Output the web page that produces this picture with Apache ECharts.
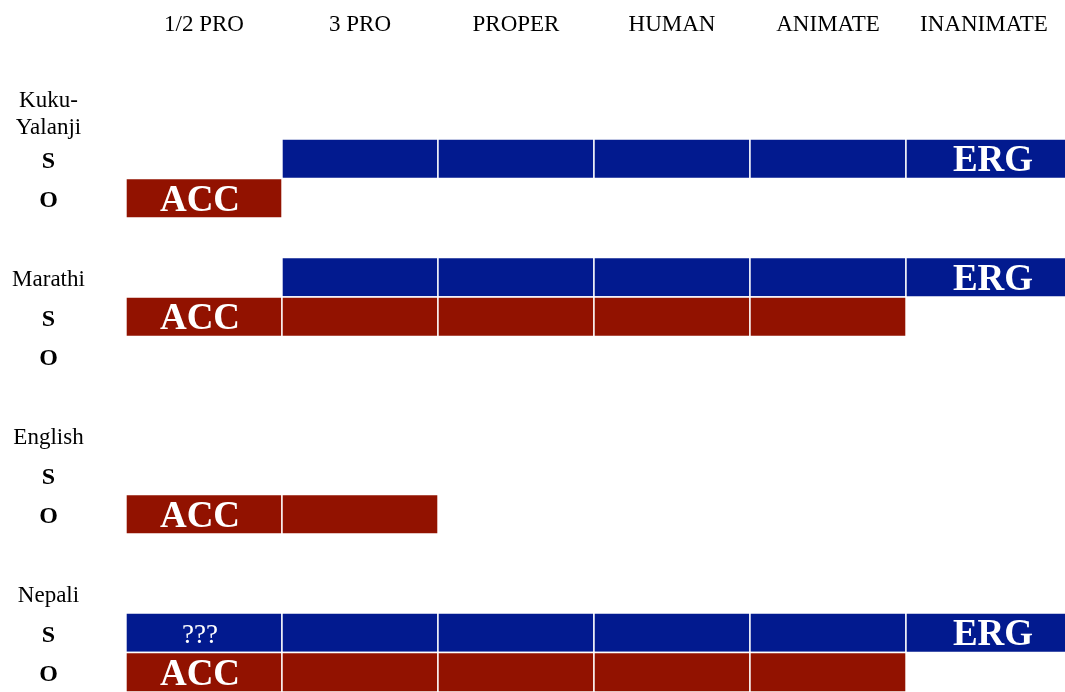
<!DOCTYPE html>
<html>
<head>
<meta charset="utf-8">
<script src="https://cdn.jsdelivr.net/npm/echarts@6/dist/echarts.min.js"></script>
<style>
  html, body { margin: 0; padding: 0; background: #fff; }
  #chart { width: 1065px; height: 692px; }
</style>
</head>
<body>
<div id="chart"></div>
<script>
// ---- data ----
const columns = ['1/2 PRO', '3 PRO', 'PROPER', 'HUMAN', 'ANIMATE', 'INANIMATE'];
const rowLabels = ['Kuku-\nYalanji', 'S', 'O', '', 'Marathi', 'S', 'O', '', 'English', 'S', 'O', '', 'Nepali', 'S', 'O'];
// marked spans: row index, first column, last column, case
const spanRow  = [1, 2, 4, 5, 10, 13, 14];
const spanFrom = [1, 0, 1, 0, 0, 0, 0];
const spanTo   = [5, 0, 5, 4, 1, 5, 4];
const spanCase = ['ERG', 'ACC', 'ERG', 'ACC', 'ACC', 'ERG', 'ACC'];
// extra cell texts: row, column, text
const noteRow = [13];
const noteCol = [0];
const noteText = ['???'];

const caseColor = { ERG: '#021A8F', ACC: '#921200' };
const FONT = 'Liberation Serif';

// build cells
const cells = [];
for (let i = 0; i < spanRow.length; i++) {
  for (let c = spanFrom[i]; c <= spanTo[i]; c++) {
    let label = '';
    if (spanCase[i] === 'ACC' && c === 0) label = 'ACC';
    if (spanCase[i] === 'ERG' && c === 5) label = 'ERG';
    let note = '';
    for (let k = 0; k < noteRow.length; k++) {
      if (noteRow[k] === spanRow[i] && noteCol[k] === c) note = noteText[k];
    }
    cells.push([c, spanRow[i], spanCase[i], label, note]);
  }
}

const chart = echarts.init(document.getElementById('chart'), null, { renderer: 'canvas' });

function renderItem(params, api) {
  const col = api.value(0);
  const row = api.value(1);
  const kind = cells[params.dataIndex][2];
  const label = cells[params.dataIndex][3];
  const note = cells[params.dataIndex][4];
  const p = api.coord([col, row]);
  const w = api.size([1, 0])[0];
  const h = api.size([0, 1])[1];
  const width = col === columns.length - 1 ? api.getWidth() - p[0] + 2 : w;
  const children = [{
    type: 'rect',
    shape: { x: p[0], y: p[1] - h / 2, width: width, height: h },
    style: { fill: caseColor[kind], stroke: '#ffffff', lineWidth: 1.4 }
  }];
  const text = label || note;
  if (text) {
    const off = col === 0 ? -4 : (col === columns.length - 1 ? 9 : 0);
    children.push({
      type: 'text',
      x: p[0] + w / 2 + off,
      y: p[1] + 3,
      style: {
        text: text,
        fill: '#ffffff',
        font: label ? ('bold 37px "' + FONT + '"') : ('27px "' + FONT + '"'),
        align: 'center',
        verticalAlign: 'middle'
      }
    });
  }
  return { type: 'group', children: children };
}

chart.setOption({
  backgroundColor: '#ffffff',
  animation: false,
  grid: { left: 126, top: 99.5, width: 936, height: 594.6, containLabel: false },
  xAxis: [
    { type: 'value', min: 0, max: 6, show: false },
    {
      type: 'category', data: columns, position: 'top', boundaryGap: true,
      axisLine: { show: false }, axisTick: { show: false }, splitLine: { show: false },
      axisLabel: {
        interval: 0, margin: 75, color: '#000', fontFamily: FONT, fontSize: 23,
        verticalAlign: 'middle'
      }
    }
  ],
  yAxis: {
    type: 'category', data: rowLabels, inverse: true,
    axisLine: { show: false }, axisTick: { show: false }, splitLine: { show: false },
    axisLabel: {
      interval: 0, margin: 77.5, align: 'center', verticalAlign: 'middle', color: '#000',
      padding: [6, 0, 0, 0],
      formatter: function (v) {
        if (v === 'S' || v === 'O') return '{b|' + v + '}';
        if (v.indexOf('\n') >= 0) {
          return v.split('\n').map(function (s) { return '{n|' + s + '}'; }).join('\n') + '\n{sp| }';
        }
        return v ? '{n|' + v + '}' : '';
      },
      rich: {
        n: { fontFamily: FONT, fontSize: 23, color: '#000', lineHeight: 27, align: 'center' },
        b: { fontFamily: FONT, fontSize: 24, fontWeight: 'bold', color: '#000', align: 'center' },
        sp: { fontSize: 10, lineHeight: 16 }
      }
    }
  },
  series: [{
    type: 'custom',
    xAxisIndex: 0,
    yAxisIndex: 0,
    renderItem: renderItem,
    encode: { x: 0, y: 1 },
    data: cells,
    clip: false
  }]
});
</script>
</body>
</html>
